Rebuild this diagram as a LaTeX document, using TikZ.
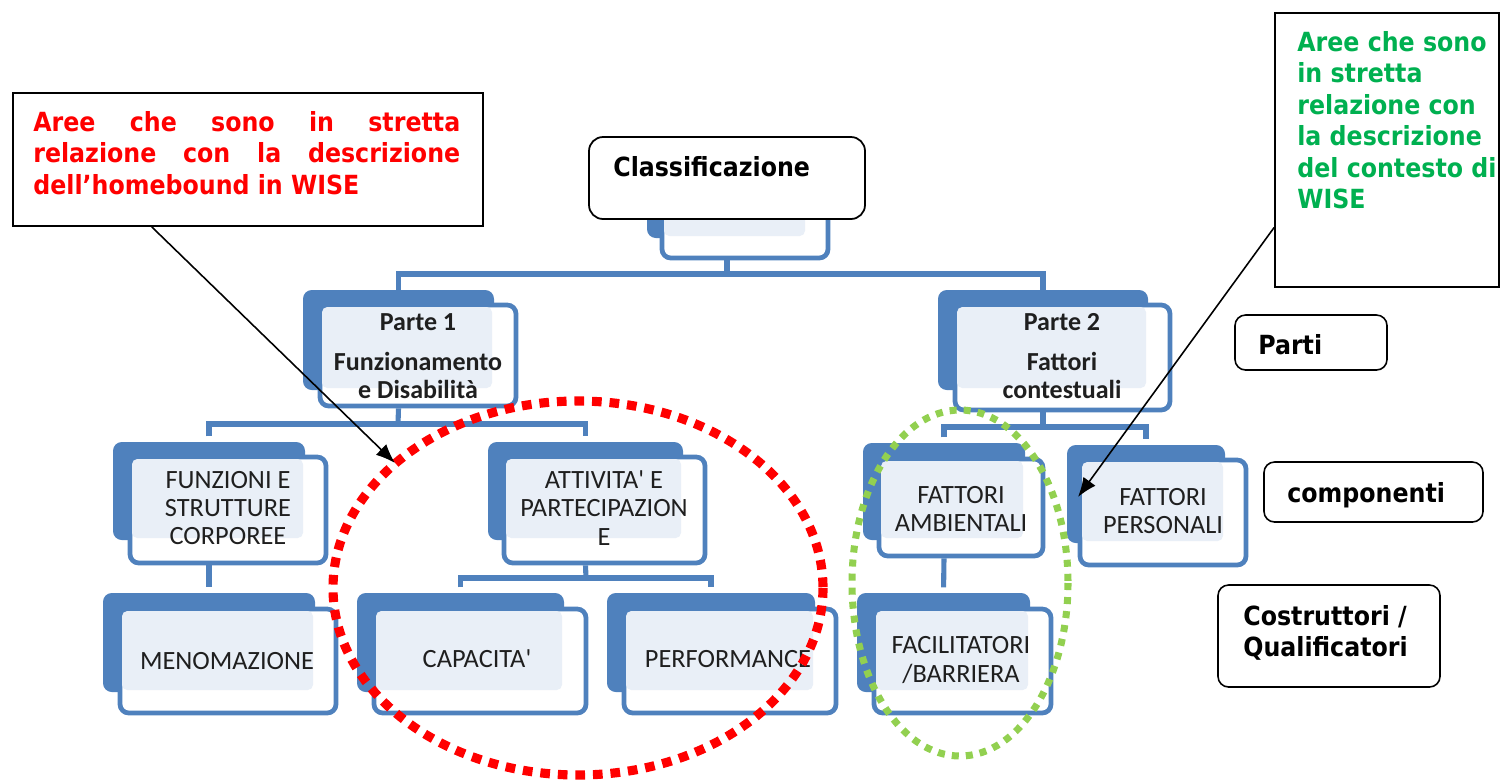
\documentclass[tikz,border=0pt]{standalone}
\usepackage{fontspec}
\setmainfont{Carlito}
\newfontfamily\tah{DejaVu Sans Condensed}[BoldFont={DejaVu Sans Condensed Bold}]
\usetikzlibrary{fit,arrows.meta,calc}
\definecolor{icfblue}{HTML}{4F81BD}
\definecolor{icflight}{HTML}{E9EFF7}
\definecolor{annred}{HTML}{FF0000}
\definecolor{anngreen}{HTML}{00B050}
\definecolor{dotgreen}{HTML}{92D050}
\newcommand\icfbox[9]{%
  \node[backbox, fit={(#2,#3) (#4,#5)}] (#1-b) {};
  \node[frontbox, fit={(#6+2,#7+2) (#8-2,#9-2)}] (#1-f) {};
  \node[lightbox, fit={(#6+4,#7+4) (#4-2,#5-2)}] (#1-l) {};
}
\begin{document}
\begin{tikzpicture}[x=0.02cm,y=-0.02cm,
  backbox/.style={fill=icfblue, rounded corners=5pt, inner sep=0pt},
  frontbox/.style={fill=white, draw=icfblue, line width=2.7pt, rounded corners=5pt, inner sep=0pt},
  lightbox/.style={fill=icflight, rounded corners=3pt, inner sep=0pt},
  lbl/.style={font=\fontsize{15}{16.2}\selectfont, align=center, text=black!88, inner sep=0pt},
  plbl/.style={lbl, font=\fontsize{14.8}{16.2}\selectfont\bfseries},
  conn/.style={draw=icfblue, line width=2.9pt},
  annbox/.style={draw=black, line width=1pt, inner sep=0pt},
  rbox/.style={draw=black, line width=0.9pt, rounded corners=6pt, inner sep=0pt},
  anntext/.style={font=\tah\bfseries\fontsize{15}{17.9}\selectfont, inner sep=0pt},
  callout/.style={draw=black, line width=0.9pt, -{Latex[length=11pt,width=8.5pt]}},
  reddots/.style={draw=annred, line width=5.2pt, dash pattern=on 5.5pt off 4.5pt},
  greendots/.style={draw=dotgreen, line width=4pt, dash pattern=on 4pt off 4pt},
]
\useasboundingbox (0,0) rectangle (1501,779);

% ---------- connectors ----------
\coordinate (b0) at (727,274);
\coordinate (b1) at (398,424);
\coordinate (b2) at (586,578);
\coordinate (b3) at (1043,427);

% ---------- boxes (back / front / light) ----------
\icfbox{cls0}{647}{185}{807}{238}{660}{200}{830}{260}
\icfbox{p1}{303}{290}{494}{390}{318}{303}{518}{408}
\icfbox{p2}{938}{290}{1148}{390}{953}{303}{1172}{412}
\icfbox{fsc}{113}{442}{305}{540}{128}{455}{328}{565}
\icfbox{men}{103}{593}{315}{692}{118}{607}{338}{715}
\icfbox{att}{488}{442}{683}{540}{502}{455}{707}{565}
\icfbox{cap}{357}{593}{564}{692}{372}{607}{588}{715}
\icfbox{perf}{607}{593}{815}{692}{622}{607}{838}{715}
\icfbox{amb}{863}{443}{1025}{540}{877}{457}{1045}{558}
\icfbox{pers}{1067}{445}{1225}{543}{1078}{458}{1248}{567}
\icfbox{fac}{857}{593}{1030}{692}{872}{607}{1053}{715}

\draw[conn] (cls0-f.south -| cls0-b.south) -- (b0);
\draw[conn] (p1-b.north) |- (b0) -| (p2-b.north);
\draw[conn] (p1-f.south -| p1-b.south) -- (b1);
\draw[conn, shorten <=3pt, shorten >=3pt] (fsc-b.north) |- (b1) -| (att-b.north);
\draw[conn] (att-f.south -| att-b.south) -- (b2);
\draw[conn, shorten <=3pt, shorten >=3pt] (cap-b.north) |- (b2) -| (perf-b.north);
\draw[conn] (p2-f.south -| p2-b.south) -- (b3);
\draw[conn, shorten <=3pt, shorten >=3pt] (amb-b.north) |- (b3) -| (pers-b.north);
\draw[conn, shorten >=3pt] (fsc-f.south -| fsc-b.south) -- (men-b.north);
\draw[conn, shorten >=3pt] (amb-f.south -| amb-b.south) -- (fac-b.north);

% ---------- labels ----------
\node[plbl] (p1) at (418,356) {Parte 1\\[6.5pt]Funzionamento\\e Disabilità};
\node[plbl] (p2) at (1062,356) {Parte 2\\[6.5pt]Fattori\\contestuali};
\node[lbl] (fsc) at (228,508) {FUNZIONI E\\STRUTTURE\\CORPOREE};
\node[lbl] (men) at (227,661) {MENOMAZIONE};
\node[lbl] (att) at (604,508) {ATTIVITA\textquotesingle{} E\\PARTECIPAZION\\E};
\node[lbl] (cap) at (477,659) {CAPACITA\textquotesingle};
\node[lbl] (perf) at (728,659) {PERFORMANCE};
\node[lbl] (amb) at (961,509) {FATTORI\\AMBIENTALI};
\node[lbl] (pers) at (1163,511) {FATTORI\\PERSONALI};
\node[lbl] (fac) at (961,660) {FACILITATORI\\/BARRIERA};

% ---------- dotted ellipses ----------
\draw[reddots] (578,588) ellipse [x radius=245, y radius=187];
\draw[greendots] (960,583) ellipse [x radius=108, y radius=173];

% ---------- Classificazione ----------
\node[rbox, fill=white, rounded corners=8pt, line width=1pt, fit={(589,137) (865,219)}] (clsbox) {};
\node[anntext, anchor=west] (cls) at (613,167) {Classificazione};

% ---------- right-hand legend boxes ----------
\node[rbox, fit={(1235,315) (1387,370)}] (partibox) {};
\node[anntext, anchor=west] (parti) at (1258,345) {Parti};
\node[rbox, fit={(1264,462) (1483,522)}] (compbox) {};
\node[anntext, anchor=west] (comp) at (1287,495) {componenti};
\node[rbox, fit={(1218,585) (1440,687)}] (costbox) {};
\node[anntext, anchor=west, align=left] (cost) at (1243,633) {Costruttori /\\Qualificatori};

% ---------- annotation callouts ----------
\node[annbox, fit={(13,93) (483,226)}] (redbox) {};
\node[anntext, text=annred, anchor=north west, align=left] (redtxt) at (33,111)
  {\makebox[243pt][s]{Aree che sono in stretta}\\
   \makebox[243pt][s]{relazione con la descrizione}\\
   dell’homebound in WISE};
\node[annbox, fit={(1275,13) (1499,287)}] (greenbox) {};
\node[anntext, text=anngreen, anchor=north west, align=left] (greentxt) at (1297,31)
  {Aree che sono\\in stretta\\relazione con\\la descrizione\\del contesto di\\WISE};

\coordinate (redtip) at (395,463);
\coordinate (greentip) at (1078,497);
\draw[callout] ($(redbox.south west)!0.296!(redbox.south east)$) -- (redtip);
\draw[callout] ($(greenbox.north west)!0.781!(greenbox.south west)$) -- (greentip);
\end{tikzpicture}
\end{document}
